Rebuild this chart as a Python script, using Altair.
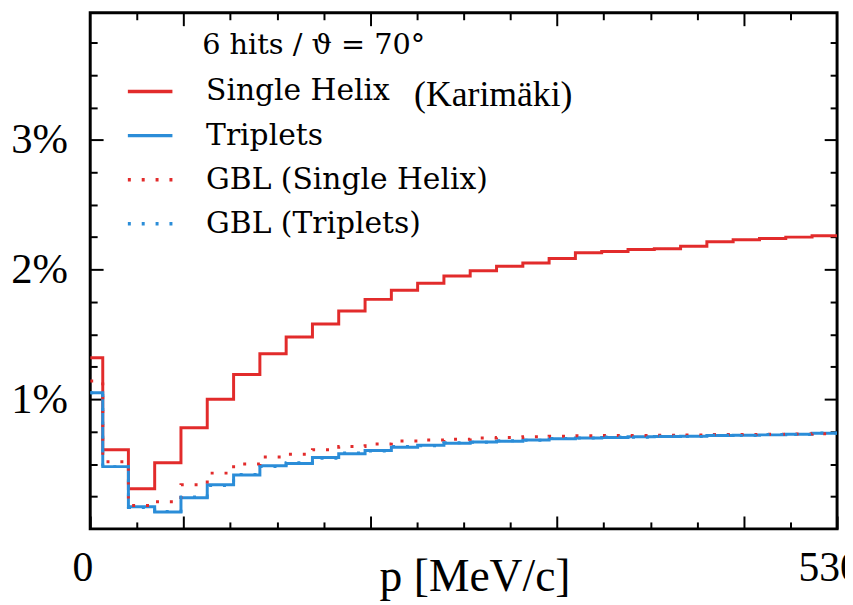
import altair as alt
import pandas as pd

# bin centres of the momentum histogram (MeV/c) and end of the range
P_CENTER = [0, 17.8, 36.4, 55.1, 73.7, 92.4, 111.1, 129.7, 148.4, 167.0,
            185.7, 204.4, 223.0, 241.7, 260.3, 279.0, 297.7, 316.3, 335.0,
            353.6, 372.3, 391.0, 409.6, 428.3, 446.9, 465.6, 484.3, 502.9, 521.6]
P_END = 530

# relative momentum resolution in percent
RED_SOLID = [1.32, 0.61, 0.31, 0.51, 0.78, 1.00, 1.19, 1.35, 1.48, 1.58,
             1.68, 1.77, 1.84, 1.895, 1.95, 1.99, 2.025, 2.05, 2.085, 2.13,
             2.14, 2.155, 2.16, 2.18, 2.215, 2.23, 2.24, 2.25, 2.26]
BLUE_SOLID = [1.05, 0.48, 0.17, 0.13, 0.24, 0.34, 0.415, 0.486, 0.505, 0.55,
              0.58, 0.605, 0.63, 0.645, 0.66, 0.67, 0.675, 0.685, 0.695, 0.70,
              0.705, 0.71, 0.712, 0.715, 0.72, 0.722, 0.725, 0.73, 0.738]
RED_DOTTED = [1.14, 0.517, 0.18, 0.21, 0.34, 0.43, 0.50, 0.555, 0.575, 0.61,
              0.635, 0.655, 0.677, 0.685, 0.692, 0.70, 0.705, 0.71, 0.715, 0.718,
              0.72, 0.72, 0.722, 0.725, 0.727, 0.728, 0.73, 0.732, 0.733]
BLUE_DOTTED = [1.05, 0.48, 0.165, 0.135, 0.245, 0.335, 0.42, 0.48, 0.51, 0.545,
               0.585, 0.60, 0.635, 0.64, 0.665, 0.668, 0.68, 0.683, 0.698, 0.70,
               0.708, 0.706, 0.715, 0.712, 0.722, 0.72, 0.728, 0.728, 0.74]

SERIES = ["Single Helix", "Triplets", "GBL (Single Helix)", "GBL (Triplets)"]
COLORS = ["#e22b2b", "#2b8dd8", "#e22b2b", "#2b8dd8"]
DASHES = [[1, 0], [1, 0], [3, 11], [3, 11]]

LEGEND_TITLE = "6 hits / ϑ = 70°"
KARIMAKI = "(Karimäki)"
X_TITLE = "p [MeV/c]"

X_MAIN = [0, 66.25, 198.75, 331.25, 463.75, 530]
X_MAJOR = [66.25, 198.75, 331.25, 463.75]
X_MINOR = [33.125, 99.375, 132.5, 165.625, 231.875, 265.0, 298.125,
           364.375, 397.5, 430.625, 496.875]
Y_MAJOR = [1, 2, 3]
Y_MINOR = [0.25, 0.5, 0.75, 1.25, 1.5, 1.75, 2.25, 2.5, 2.75, 3.25, 3.5, 3.75]

rows = []
for name, vals in zip(SERIES, [RED_SOLID, BLUE_SOLID, RED_DOTTED, BLUE_DOTTED]):
    xs = P_CENTER + [P_END]
    ys = vals + [vals[-1]]
    for i, (x, y) in enumerate(zip(xs, ys)):
        rows.append({"series": name, "p": x, "res": y, "order": i})
df = pd.DataFrame(rows)

xscale = alt.Scale(domain=[0, 530], nice=False, zero=False)
yscale = alt.Scale(domain=[0, 3.98], nice=False)

AXFONT = "Liberation Serif, 'Times New Roman', Times, serif"


def tick_axis(orient, values, size):
    return alt.Axis(orient=orient, values=values, tickSize={"expr": str(-size)},
                    tickWidth=2, tickColor="black", domain=False, grid=False,
                    labels=False, title=None)


x_main = alt.Axis(orient="bottom", values=X_MAIN, tickSize={"expr": "-13"},
                  tickWidth=2, tickColor="black", domain=False, grid=False,
                  labelExpr="datum.value == 0 ? '0' : (datum.value == 530 ? '530' : '')",
                  labelFont=AXFONT, labelFontSize=42, labelColor="black",
                  labelBaseline="alphabetic", labelPadding=65, labelOffset=-8,
                  labelFlush=False, labelOverlap=False,
                  title=X_TITLE, titleFont=AXFONT, titleFontSize=46,
                  titleFontWeight="normal", titleColor="black",
                  titleX=388, titleY=62, titleAlign="center",
                  titleBaseline="alphabetic")
y_main = alt.Axis(orient="left", values=Y_MAJOR, tickSize={"expr": "-13"},
                  tickWidth=2, tickColor="black", domain=False, grid=False,
                  labelExpr="datum.value + '%'", labelFont=AXFONT,
                  labelFontSize=43, labelColor="black", labelAlign="right",
                  labelBaseline="middle", labelPadding=36, labelOverlap=False,
                  title=None)

leg = alt.Legend(orient="none", legendX=36, legendY=55, title=None,
                 direction="vertical", symbolType="stroke", symbolSize=2025,
                 symbolStrokeWidth=3.5, labelFont="DejaVu Serif",
                 labelFontSize=30, labelColor="black", labelOffset=32,
                 rowPadding=4.5, padding=0, labelLimit=0)

color = alt.Color("series:N", scale=alt.Scale(domain=SERIES, range=COLORS), legend=leg)
dash = alt.StrokeDash("series:N", scale=alt.Scale(domain=SERIES, range=DASHES), legend=leg)

axes_sets = [
    (x_main, y_main),
    (tick_axis("bottom", X_MINOR, 7), tick_axis("left", Y_MINOR, 7)),
    (tick_axis("top", X_MAJOR, 13), tick_axis("right", Y_MAJOR, 13)),
    (tick_axis("top", X_MINOR, 7), tick_axis("right", Y_MINOR, 7)),
]

layers = []
for name, (xa, ya) in zip(SERIES, axes_sets):
    layers.append(
        alt.Chart(df).transform_filter(alt.datum.series == name)
        .mark_line(interpolate="step", strokeWidth=3, clip=True)
        .encode(x=alt.X("p:Q", scale=xscale, axis=xa),
                y=alt.Y("res:Q", scale=yscale, axis=ya),
                color=color, strokeDash=dash, order="order:Q")
    )

title_layer = alt.Chart(pd.DataFrame({"t": [LEGEND_TITLE]})).mark_text(
    align="left", baseline="middle", font="DejaVu Serif", fontSize=29, color="black"
).encode(x=alt.value(113), y=alt.value(33), text="t:N")

kari_layer = alt.Chart(pd.DataFrame({"t": [KARIMAKI]})).mark_text(
    align="left", baseline="alphabetic", font=AXFONT, fontSize=36, color="black"
).encode(x=alt.value(327), y=alt.value(94), text="t:N")

chart = (
    alt.layer(*layers, title_layer, kari_layer)
    .resolve_axis(x="independent", y="independent")
    .properties(width=754, height=521,
                autosize=alt.AutoSizeParams(type="none"),
                padding={"left": 83, "top": 2, "right": 8, "bottom": 74},
                background="white")
    .configure_view(stroke="black", strokeWidth=3)
)

chart.save("out.html", embed_options={"renderer": "svg", "actions": False})
